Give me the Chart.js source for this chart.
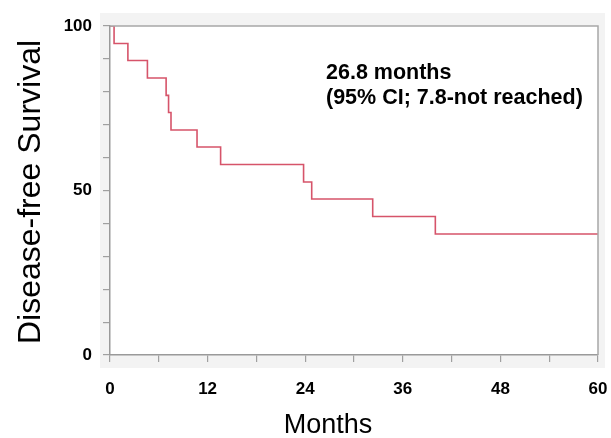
<!DOCTYPE html>
<html>
<head>
<meta charset="utf-8">
<script src="https://cdn.jsdelivr.net/npm/chart.js@4/dist/chart.umd.min.js"></script>
<style>
  html, body { margin: 0; padding: 0; background: #ffffff; }
  #wrap { width: 611px; height: 438px; }
</style>
</head>
<body>
<div id="wrap"><canvas id="c" width="611" height="438"></canvas></div>
<script>
// Kaplan-Meier step data (months, disease-free survival %)
const months   = [0, 0.5, 2.2, 4.6, 6.9, 7.2, 7.5, 10.7, 13.6, 23.8, 24.8, 32.3, 40.0, 60];
const survival = [100, 94.7, 89.5, 84.2, 78.9, 73.7, 68.4, 63.2, 57.9, 52.6, 47.4, 42.1, 36.8, 36.8];

const xTickLabels = [0, 12, 24, 36, 48, 60];
const yTickLabels = [0, 50, 100];

const xTitle = 'Months';
const yTitle = 'Disease-free Survival';
const noteLines = ['26.8 months', '(95% CI; 7.8-not reached)'];

const FONT = "'Liberation Sans', Arial, Helvetica, sans-serif";

const decor = {
  id: 'decor',
  beforeDraw(chart) {
    const { ctx, chartArea: a } = chart;
    ctx.save();
    ctx.fillStyle = '#f3f3f3';
    ctx.fillRect(100, 13, 505, 355);
    ctx.fillStyle = '#ffffff';
    ctx.fillRect(a.left, a.top, a.right - a.left, a.bottom - a.top);
    ctx.restore();
  },
  afterDraw(chart) {
    const { ctx, chartArea: a } = chart;
    ctx.save();
    // top and right frame
    ctx.strokeStyle = '#a8a8a8';
    ctx.lineWidth = 1.5;
    ctx.beginPath();
    ctx.moveTo(a.left, a.top);
    ctx.lineTo(a.right, a.top);
    ctx.lineTo(a.right, a.bottom);
    ctx.stroke();

    ctx.fillStyle = '#000000';
    // note text
    ctx.font = 'bold 21.5px ' + FONT;
    ctx.textAlign = 'left';
    ctx.textBaseline = 'alphabetic';
    ctx.fillText(noteLines[0], 326, 79);
    ctx.fillText(noteLines[1], 326, 104);

    // x title
    ctx.font = '27px ' + FONT;
    ctx.textAlign = 'center';
    ctx.fillText(xTitle, 328, 433);

    // y title
    ctx.font = '32px ' + FONT;
    ctx.translate(40, 192);
    ctx.rotate(-Math.PI / 2);
    ctx.textAlign = 'center';
    ctx.fillText(yTitle, 0, 0);
    ctx.restore();
  }
};

new Chart(document.getElementById('c'), {
  type: 'line',
  data: {
    datasets: [{
      data: months.map((m, i) => ({ x: m, y: survival[i] })),
      stepped: true,
      borderColor: 'rgb(214, 84, 106)',
      borderWidth: 1.6,
      pointRadius: 0,
      fill: false,
      tension: 0
    }]
  },
  options: {
    responsive: false,
    animation: false,
    devicePixelRatio: 1,
    layout: { padding: { top: 26, right: 13, left: 0, bottom: 0 } },
    plugins: { legend: { display: false }, tooltip: { enabled: false } },
    scales: {
      x: {
        type: 'linear',
        min: 0, max: 60,
        afterFit(s) { s.height = 83; s.paddingLeft = 0; s.paddingRight = 0; },
        border: { color: '#9a9a9a', width: 1.5 },
        grid: { drawOnChartArea: false, drawTicks: true, tickLength: 7, color: '#a0a0a0', lineWidth: 1.2 },
        ticks: {
          stepSize: 6,
          autoSkip: false,
          maxRotation: 0,
          padding: 17,
          color: '#000000',
          font: { family: FONT, size: 17, weight: 'bold' },
          callback: v => xTickLabels.includes(v) ? String(v) : ''
        }
      },
      y: {
        type: 'linear',
        min: 0, max: 100,
        afterFit(s) { s.width = 110; s.paddingTop = 0; s.paddingBottom = 0; },
        border: { color: '#9a9a9a', width: 1.5 },
        grid: { drawOnChartArea: false, drawTicks: true, tickLength: 7, color: '#a0a0a0', lineWidth: 1.2 },
        ticks: {
          stepSize: 10,
          autoSkip: false,
          padding: 11,
          color: '#000000',
          font: { family: FONT, size: 17, weight: 'bold' },
          callback: v => yTickLabels.includes(v) ? String(v) : ''
        }
      }
    }
  },
  plugins: [decor]
});
</script>
</body>
</html>
